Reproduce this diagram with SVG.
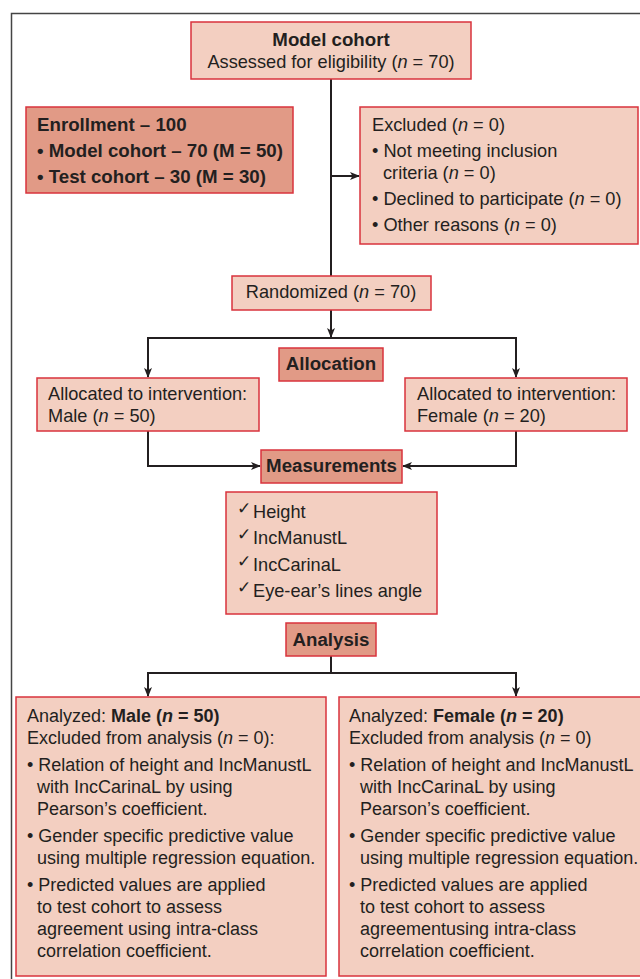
<svg xmlns="http://www.w3.org/2000/svg" width="640" height="979" viewBox="0 0 640 979">
<defs>
<marker id="ah" markerWidth="10" markerHeight="10" viewBox="0 0 10 10" refX="9" refY="5" orient="auto" markerUnits="userSpaceOnUse">
<path d="M0,1 L10,5 L0,9 L2.5,5 Z" fill="#231f20"/>
</marker>
<style>
.lt{fill:#f3cfc1;stroke:#d9333d;stroke-width:1.5}
.dk{fill:#e19a86;stroke:#d9333d;stroke-width:1.5}
text{font-family:"Liberation Sans",Arial,sans-serif;font-size:18.2px;fill:#231f20}
.b{font-weight:bold;font-size:18.7px}
.bs{font-weight:bold}
.c{text-anchor:middle}
.i{font-style:italic}
.ck{font-family:"DejaVu Sans",sans-serif;font-size:17px}
.cn{fill:none;stroke:#231f20;stroke-width:2}
.an text{font-size:18px}
</style>
</defs>
<rect width="640" height="979" fill="#ffffff"/>
<path d="M640 13.5 H11.5 V979" fill="none" stroke="#444" stroke-width="1.5"/>

<g id="connectors">
<path class="cn" d="M331 79 V276"/>
<path class="cn" d="M331 176 H359" marker-end="url(#ah)"/>
<path class="cn" d="M331 310 V337" marker-end="url(#ah)"/>
<path class="cn" d="M331 338 H148 V377" marker-end="url(#ah)"/>
<path class="cn" d="M331 338 H516 V377" marker-end="url(#ah)"/>
<path class="cn" d="M148 431 V466 H260" marker-end="url(#ah)"/>
<path class="cn" d="M516 431 V466 H403" marker-end="url(#ah)"/>
<path class="cn" d="M331 656 V673"/>
<path class="cn" d="M331 673 H148 V696" marker-end="url(#ah)"/>
<path class="cn" d="M331 673 H516 V696" marker-end="url(#ah)"/>
</g>

<g id="model-cohort">
<rect class="lt" x="191" y="22" width="280" height="57"/>
<text class="b c" x="331" y="46">Model cohort</text>
<text class="c" x="331" y="68">Assessed for eligibility (<tspan class="i">n</tspan> = 70)</text>
</g>

<g id="enrollment">
<rect class="dk" x="26" y="107" width="267" height="86"/>
<text class="b" x="37" y="131">Enrollment – 100</text>
<text class="b" x="37" y="157">• Model cohort – 70 (M = 50)</text>
<text class="b" x="37" y="183">• Test cohort – 30 (M = 30)</text>
</g>

<g id="excluded">
<rect class="lt" x="360" y="107" width="278" height="137"/>
<text x="372" y="131">Excluded (<tspan class="i">n</tspan> = 0)</text>
<text x="372" y="157">• Not meeting inclusion</text>
<text x="383" y="179">criteria (<tspan class="i">n</tspan> = 0)</text>
<text x="372" y="205">• Declined to participate (<tspan class="i">n</tspan> = 0)</text>
<text x="372" y="231">• Other reasons (<tspan class="i">n</tspan> = 0)</text>
</g>

<g id="randomized">
<rect class="lt" x="232" y="276" width="199" height="34"/>
<text class="c" x="331" y="298">Randomized (<tspan class="i">n</tspan> = 70)</text>
</g>

<g id="allocation">
<rect class="dk" x="279" y="348" width="104" height="33"/>
<text class="b c" x="331" y="370">Allocation</text>
</g>

<g id="alloc-male">
<rect class="lt" x="37" y="378" width="222" height="53"/>
<text x="48" y="400">Allocated to intervention:</text>
<text x="48" y="422">Male (<tspan class="i">n</tspan> = 50)</text>
</g>

<g id="alloc-female">
<rect class="lt" x="405" y="378" width="222" height="53"/>
<text x="417" y="400">Allocated to intervention:</text>
<text x="417" y="422">Female (<tspan class="i">n</tspan> = 20)</text>
</g>

<g id="measurements">
<rect class="dk" x="261" y="450" width="141" height="33"/>
<text class="b c" x="331.5" y="472">Measurements</text>
</g>

<g id="measure-list">
<rect class="lt" x="226" y="492" width="211" height="122"/>
<text class="ck" x="237" y="514">✓</text><text x="253" y="518">Height</text>
<text class="ck" x="237" y="540">✓</text><text x="253" y="544">IncManustL</text>
<text class="ck" x="237" y="567">✓</text><text x="253" y="571">IncCarinaL</text>
<text class="ck" x="237" y="593">✓</text><text x="253" y="597">Eye-ear’s lines angle</text>
</g>

<g id="analysis">
<rect class="dk" x="286" y="623" width="90" height="33"/>
<text class="b c" x="331" y="646">Analysis</text>
</g>

<g id="analyzed-male" class="an">
<rect class="lt" x="16" y="697" width="310" height="279"/>
<text x="27" y="722">Analyzed: <tspan class="bs">Male (<tspan class="i">n</tspan> = 50)</tspan></text>
<text x="27" y="744">Excluded from analysis (<tspan class="i">n</tspan> = 0):</text>
<text x="27" y="771">• Relation of height and IncManustL</text>
<text x="37" y="793">with IncCarinaL by using</text>
<text x="37" y="815">Pearson’s coefficient.</text>
<text x="27" y="842">• Gender specific predictive value</text>
<text x="37" y="864">using multiple regression equation.</text>
<text x="27" y="891">• Predicted values are applied</text>
<text x="37" y="913">to test cohort to assess</text>
<text x="37" y="935">agreement using intra-class</text>
<text x="37" y="957">correlation coefficient.</text>
</g>

<g id="analyzed-female" class="an">
<rect class="lt" x="339" y="697" width="303" height="279"/>
<text x="349" y="722">Analyzed: <tspan class="bs">Female (<tspan class="i">n</tspan> = 20)</tspan></text>
<text x="349" y="744">Excluded from analysis (<tspan class="i">n</tspan> = 0)</text>
<text x="349" y="771">• Relation of height and IncManustL</text>
<text x="360" y="793">with IncCarinaL by using</text>
<text x="360" y="815">Pearson’s coefficient.</text>
<text x="349" y="842">• Gender specific predictive value</text>
<text x="360" y="864">using multiple regression equation.</text>
<text x="349" y="891">• Predicted values are applied</text>
<text x="360" y="913">to test cohort to assess</text>
<text x="360" y="935">agreementusing intra-class</text>
<text x="360" y="957">correlation coefficient.</text>
</g>
</svg>
